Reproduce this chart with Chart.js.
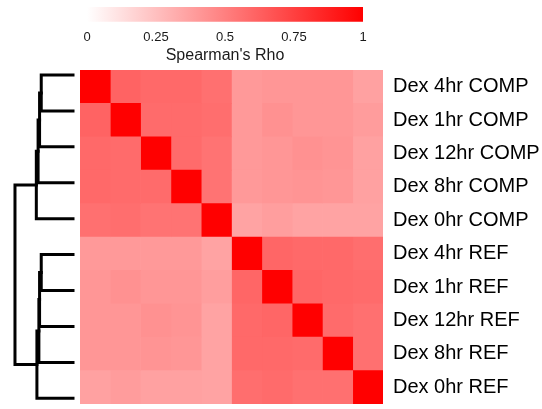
<!DOCTYPE html>
<html>
<head>
<meta charset="utf-8">
<script src="https://cdn.jsdelivr.net/npm/chart.js@4.4.0/dist/chart.umd.min.js"></script>
<style>
  html, body { margin: 0; padding: 0; background: #fff; }
  #wrap { position: relative; width: 542px; height: 409px; overflow: hidden; }
  #wrap div { position: absolute; }
</style>
</head>
<body>
<div id="wrap">
  <div style="left:40px; top:0px; width:370px; height:66px;"><canvas id="legendChart"></canvas></div>
  <div style="left:0px; top:60px; width:80px; height:350px;"><canvas id="treeChart"></canvas></div>
  <div style="left:80px; top:70px; width:462px; height:334px;"><canvas id="heatChart"></canvas></div>
</div>
<script>
document.addEventListener('DOMContentLoaded', function () {

    // ================= DATA =================
    const samples = ['Dex 4hr COMP', 'Dex 1hr COMP', 'Dex 12hr COMP', 'Dex 8hr COMP', 'Dex 0hr COMP',
                     'Dex 4hr REF', 'Dex 1hr REF', 'Dex 12hr REF', 'Dex 8hr REF', 'Dex 0hr REF'];

    // Spearman correlation between samples (row order = column order = samples)
    const rho = [
        [1.00, 0.61, 0.59, 0.59, 0.56, 0.40, 0.41, 0.41, 0.41, 0.37],
        [0.61, 1.00, 0.58, 0.58, 0.57, 0.40, 0.43, 0.41, 0.41, 0.39],
        [0.59, 0.58, 1.00, 0.58, 0.55, 0.40, 0.41, 0.43, 0.42, 0.37],
        [0.59, 0.58, 0.58, 1.00, 0.55, 0.40, 0.41, 0.42, 0.41, 0.37],
        [0.56, 0.57, 0.55, 0.55, 1.00, 0.36, 0.38, 0.36, 0.36, 0.36],
        [0.40, 0.40, 0.40, 0.40, 0.36, 1.00, 0.60, 0.59, 0.59, 0.57],
        [0.41, 0.43, 0.41, 0.41, 0.38, 0.60, 1.00, 0.60, 0.59, 0.58],
        [0.41, 0.41, 0.43, 0.42, 0.36, 0.59, 0.60, 1.00, 0.58, 0.56],
        [0.41, 0.41, 0.42, 0.41, 0.36, 0.59, 0.59, 0.58, 1.00, 0.56],
        [0.37, 0.39, 0.37, 0.37, 0.36, 0.57, 0.58, 0.56, 0.56, 1.00]
    ];

    const legendTicks = [0, 0.25, 0.5, 0.75, 1];

    // hclust-style merges: negative = leaf index (1-based), positive = earlier merge
    const treeMerge = [
        [-1, -2], [1, -3], [2, -4], [3, -5],
        [-6, -7], [5, -8], [6, -9], [7, -10],
        [4, 8]
    ];
    const treeHeight = [32.3, 34, 35.5, 37.3, 32.3, 34, 34.7, 36.7, 59];

    const FONT = 'Liberation Sans, Arial, sans-serif';

    const shade = v => {
        const c = Math.round(255 * (1 - v));
        return `rgb(255,${c},${c})`;
    };

    // drop the automatic edge padding Chart.js reserves for tick labels
    const noEdgePad = s => { s.paddingTop = s.paddingBottom = s.paddingLeft = s.paddingRight = 0; };

    // ================= COLOUR KEY =================
    new Chart(document.getElementById('legendChart'), {
        type: 'bar',
        data: {
            labels: ['rho'],
            datasets: [{
                data: [[legendTicks[0], legendTicks[legendTicks.length - 1]]],
                backgroundColor: ctx => {
                    const area = ctx.chart.chartArea;
                    if (!area) return '#f00';
                    const g = ctx.chart.ctx.createLinearGradient(area.left, 0, area.right, 0);
                    g.addColorStop(0, shade(0));
                    g.addColorStop(1, shade(1));
                    return g;
                },
                categoryPercentage: 1,
                barPercentage: 1,
                borderSkipped: false
            }]
        },
        options: {
            indexAxis: 'y',
            responsive: true,
            maintainAspectRatio: false,
            animation: false,
            layout: { padding: { left: 47, right: 47, top: 7, bottom: 0 } },
            plugins: {
                legend: { display: false },
                tooltip: { enabled: false },
                title: {
                    display: true,
                    position: 'bottom',
                    text: "Spearman's Rho",
                    color: '#1a1a1a',
                    font: { family: FONT, size: 16, weight: 'normal' },
                    padding: { top: 2, bottom: 1 }
                }
            },
            scales: {
                x: {
                    min: 0, max: 1,
                    afterBuildTicks: s => { s.ticks = legendTicks.map(v => ({ value: v })); },
                    afterFit: s => { s.height = 22; noEdgePad(s); },
                    grid: { display: false, drawTicks: false },
                    border: { display: false },
                    ticks: {
                        color: '#1a1a1a',
                        font: { family: FONT, size: 13 },
                        padding: 8,
                        maxRotation: 0,
                        autoSkip: false,
                        callback: v => String(v)
                    }
                },
                y: { display: false }
            }
        }
    });

    // ================= DENDROGRAM =================
    const nodePos = [];
    const treeSets = [];
    const childInfo = id => id < 0
        ? { y: -id - 1, h: 0 }
        : { y: nodePos[id - 1], h: treeHeight[id - 1] };

    treeMerge.forEach(([a, b], i) => {
        const ca = childInfo(a), cb = childInfo(b), h = treeHeight[i];
        nodePos.push((ca.y + cb.y) / 2);
        treeSets.push({
            data: [{ x: ca.h, y: ca.y }, { x: h, y: ca.y }, { x: h, y: cb.y }, { x: cb.h, y: cb.y }],
            showLine: true,
            borderColor: '#000',
            borderWidth: 3,
            borderCapStyle: 'square',
            borderJoinStyle: 'miter',
            pointRadius: 0,
            clip: false
        });
    });

    new Chart(document.getElementById('treeChart'), {
        type: 'scatter',
        data: { datasets: treeSets },
        options: {
            responsive: true,
            maintainAspectRatio: false,
            animation: false,
            layout: { padding: { left: 14, right: 7, top: 15, bottom: 11.7 } },
            plugins: { legend: { display: false }, tooltip: { enabled: false } },
            scales: {
                x: { display: false, reverse: true, min: 0, max: 60 },
                y: { display: false, reverse: true, min: 0, max: 9 }
            }
        }
    });

    // ================= HEATMAP =================
    // one stacked dataset per column, each row segment is one cell
    const heatSets = samples.map((name, col) => ({
        label: name,
        data: samples.map(() => 1),
        backgroundColor: rho.map(row => shade(row[col])),
        borderWidth: 0,
        categoryPercentage: 1,
        barPercentage: 1
    }));

    new Chart(document.getElementById('heatChart'), {
        type: 'bar',
        data: { labels: samples, datasets: heatSets },
        options: {
            indexAxis: 'y',
            responsive: true,
            maintainAspectRatio: false,
            animation: false,
            layout: { padding: 0 },
            plugins: { legend: { display: false }, tooltip: { enabled: false } },
            scales: {
                x: { display: false, stacked: true, min: 0, max: samples.length },
                y: {
                    stacked: true,
                    position: 'right',
                    grid: { display: false, drawTicks: false },
                    border: { display: false },
                    ticks: { color: '#000', font: { family: FONT, size: 20 }, padding: 10 },
                    afterFit: s => { s.width = 159; noEdgePad(s); }
                }
            }
        }
    });

});
</script>
</body>
</html>
